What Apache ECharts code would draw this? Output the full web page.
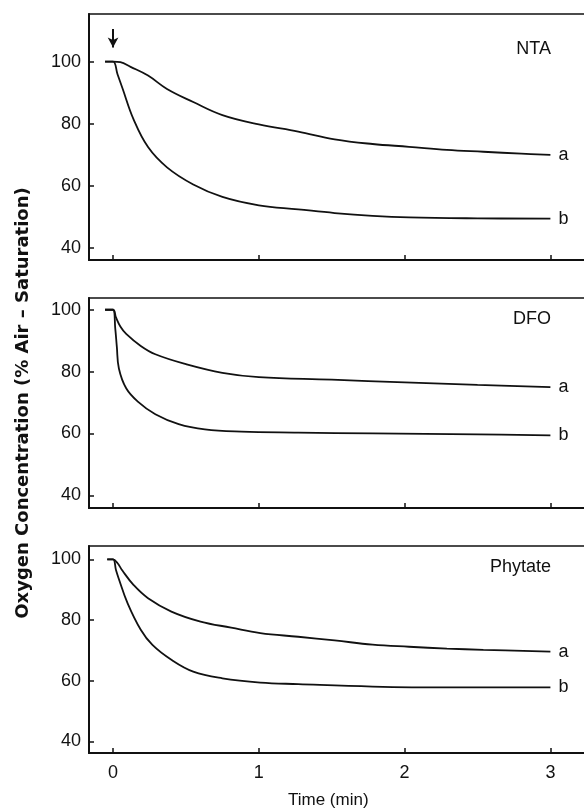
<!DOCTYPE html>
<html>
<head>
<meta charset="utf-8">
<script src="https://cdn.jsdelivr.net/npm/echarts@6/dist/echarts.min.js"></script>
<style>
  html, body { margin: 0; padding: 0; background: #fff; }
  #main { width: 584px; height: 812px; }
</style>
</head>
<body>
<div id="main"></div>
<script>
// 时间 (min) / 氧浓度 (% air saturation) 读数
var timeTicks = [0, 1, 2, 3];
var concTicks = [40, 60, 80, 100];
var panelNames = ['NTA', 'DFO', 'Phytate'];
var curveNames = ['a', 'b'];
var arrowAt = [[0, 110.5], [0, 104.5]];

var ntaA = [[-0.055,100],[0,100],[0.05,99.8],[0.12,98.3],[0.24,95.5],[0.37,91.2],[0.55,87.0],[0.75,82.8],[1.0,79.8],[1.27,77.5],[1.52,75.0],[1.78,73.5],[2.03,72.6],[2.29,71.6],[2.54,71.0],[2.8,70.4],[3.0,70.0]];
var ntaB = [[-0.055,100],[0,100],[0.03,96],[0.064,91.5],[0.14,81.5],[0.24,72.5],[0.37,66],[0.55,60.5],[0.75,56.5],[1.0,53.8],[1.27,52.5],[1.52,51.3],[1.78,50.4],[2.03,49.9],[2.5,49.6],[3.0,49.5]];
var dfoA = [[-0.055,100],[0,100],[0.02,97.5],[0.05,94.6],[0.09,92.2],[0.19,88.3],[0.29,85.6],[0.5,82.4],[0.75,79.6],[1.0,78.2],[1.5,77.4],[2.0,76.5],[2.5,75.7],[3.0,75.0]];
var dfoB = [[-0.055,100],[0,100],[0.015,94],[0.026,88],[0.04,81],[0.09,74.6],[0.17,70.3],[0.29,66.2],[0.45,63.0],[0.63,61.3],[0.88,60.6],[1.27,60.3],[1.78,60.0],[2.5,59.7],[3.0,59.4]];
var phyA = [[-0.04,100],[0,100],[0.03,98.8],[0.064,96.3],[0.14,91.6],[0.24,87.2],[0.4,82.8],[0.6,79.5],[0.81,77.5],[1.01,75.7],[1.27,74.5],[1.52,73.3],[1.78,71.9],[2.03,71.2],[2.29,70.6],[2.54,70.2],[3.0,69.6]];
var phyB = [[-0.04,100],[0,100],[0.02,96.5],[0.038,93.8],[0.1,85.5],[0.19,76.8],[0.27,71.8],[0.4,66.9],[0.55,63.0],[0.75,60.8],[1.01,59.4],[1.27,58.9],[1.78,58.1],[2.3,57.8],[3.0,57.8]];

var panelData = [[ntaA, ntaB], [dfoA, dfoB], [phyA, phyB]];

var numFont = '"Liberation Sans", Arial, sans-serif';
var ink = '#111';

// 每个面板的位置和y轴范围
var panels = [
  { top: 14,  height: 246, yMin: 36.2, yMax: 115.3 },
  { top: 298, height: 210, yMin: 35.9, yMax: 103.8 },
  { top: 546, height: 207, yMin: 36.2, yMax: 104.4 }
];

var grids = [], xAxes = [], yAxes = [], series = [], graphics = [];

panels.forEach(function (p, i) {
  grids.push({
    left: 89, width: 505, top: p.top, height: p.height,
    outerBoundsMode: 'none', containLabel: false,
    show: true, borderColor: ink, borderWidth: 1.5,
    backgroundColor: 'transparent'
  });
  xAxes.push({
    type: 'value', gridIndex: i, min: -0.165, max: 3.299,
    axisLine: { show: true, onZero: false, lineStyle: { color: ink, width: 2 } },
    axisTick: { show: true, inside: true, length: 5, customValues: timeTicks, lineStyle: { color: ink, width: 1.5 } },
    axisLabel: {
      show: i === 2, customValues: timeTicks, margin: 11,
      color: ink, fontSize: 18, fontFamily: numFont
    },
    splitLine: { show: false }
  });
  yAxes.push({
    type: 'value', gridIndex: i, min: p.yMin, max: p.yMax,
    axisLine: { show: true, onZero: false, lineStyle: { color: ink, width: 2 } },
    axisTick: { show: true, inside: true, length: 5, customValues: concTicks, lineStyle: { color: ink, width: 1.5 } },
    axisLabel: {
      customValues: concTicks, margin: 8,
      color: ink, fontSize: 18, fontFamily: numFont
    },
    splitLine: { show: false },
    name: i === 1 ? 'Oxygen Concentration (% Air \u2013 Saturation)' : '',
    nameLocation: 'middle', nameRotate: 90, nameGap: 57,
    nameTextStyle: {
      color: ink, fontSize: 18, fontWeight: 'bold',
      fontFamily: '"DejaVu Sans", sans-serif'
    }
  });
  panelData[i].forEach(function (d, k) {
    var s = {
      type: 'line', xAxisIndex: i, yAxisIndex: i,
      data: d, showSymbol: false, smooth: 0.4,
      lineStyle: { color: ink, width: 1.8 },
      endLabel: {
        show: true, formatter: curveNames[k], distance: 8,
        color: ink, fontSize: 18, fontFamily: numFont
      },
      animation: false
    };
    if (i === 0 && k === 0) {
      s.markLine = {
        silent: true, symbol: ['none', 'arrow'], symbolSize: [8, 10],
        lineStyle: { color: ink, width: 2, type: 'solid' },
        label: { show: false },
        data: [[{ coord: arrowAt[0] }, { coord: arrowAt[1] }]]
      };
    }
    series.push(s);
  });
});

// 面板名称
var nameY = [50, 320, 568];
panelNames.forEach(function (n, i) {
  graphics.push({
    type: 'text', right: 33, top: nameY[i] - 10,
    style: { text: n, fill: ink, font: '18px ' + numFont }
  });
});
graphics.push({
  type: 'text', left: 288, top: 792,
  style: { text: 'Time (min)', fill: ink, font: '17px ' + numFont }
});

var chart = echarts.init(document.getElementById('main'));
chart.setOption({
  animation: false,
  backgroundColor: '#fff',
  grid: grids,
  xAxis: xAxes,
  yAxis: yAxes,
  series: series,
  graphic: graphics
});
</script>
</body>
</html>
